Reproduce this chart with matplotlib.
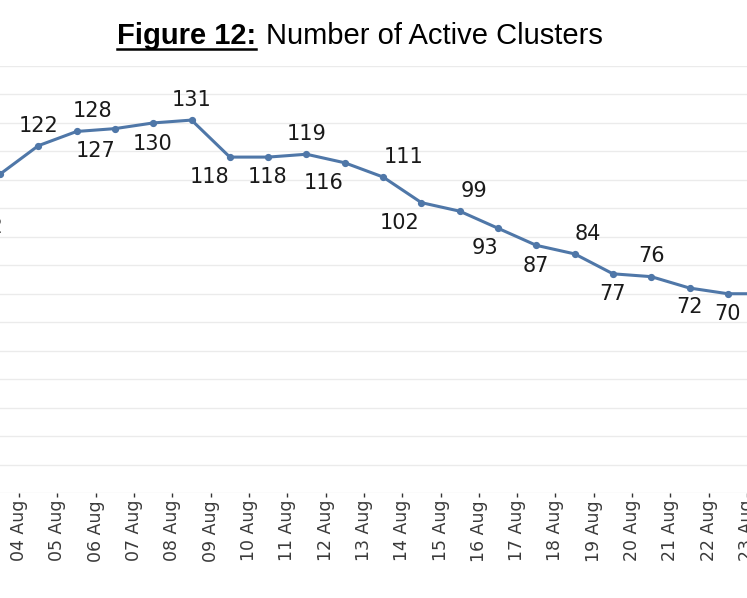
import numpy as np
import matplotlib
matplotlib.use('Agg')
import matplotlib.pyplot as plt
from matplotlib.lines import Line2D

# data (first and last points sit on the crop edges)
days = ['04 Aug', '05 Aug', '06 Aug', '07 Aug', '08 Aug', '09 Aug', '10 Aug',
        '11 Aug', '12 Aug', '13 Aug', '14 Aug', '15 Aug', '16 Aug', '17 Aug',
        '18 Aug', '19 Aug', '20 Aug', '21 Aug', '22 Aug', '23 Aug']
clusters = [112, 122, 127, 128, 130, 131, 118, 118, 119, 116, 111,
            102, 99, 93, 87, 84, 77, 76, 72, 70, 70]

# label offsets in pixels (dx, dy), dy positive = up; None = not drawn
lab_off = [(-16, -53), (0, 20), (19, -20), (-22, 18), (-1, -21), (0, 20),
           (-20, -20), (-1, -20), (0, 20), (-21, -20), (20, 20), (-22, -20),
           (14, 20), (-13, -20), (0, -21), (13, 20), (0, -20), (0, 21),
           (0, -19), (0, -20), None]

W, H = 747, 598
fig = plt.figure(figsize=(W/100, H/100), dpi=100)
ax = fig.add_axes([0, (H-493)/H, 1, 427/H])

x = np.arange(len(clusters))
col = '#4F77A8'
ax.plot(x, clusters, color=col, lw=2.2, marker='o', ms=4.2, zorder=3)
for i, v in enumerate(clusters):
    if lab_off[i] is None:
        continue
    ax.annotate(str(v), (x[i], v), xytext=lab_off[i], textcoords='offset pixels',
                ha='center', va='center', fontsize=15, color='#1a1a1a',
                family='DejaVu Sans', annotation_clip=False)

ax.set_xlim(0, W/38.32)
ax.set_ylim(0, 150)
ax.set_yticks(np.arange(0, 151, 10))
ax.yaxis.grid(True, color='#EBEBEB', lw=1.0)
ax.set_axisbelow(True)
ax.tick_params(axis='y', left=False, labelleft=False)
ax.set_xticks(np.arange(len(days)) + 0.5)
ax.set_xticklabels(days, rotation=90, fontsize=12.5, color='#3a3a3a')
ax.tick_params(axis='x', length=3, width=1, color='#333333', pad=2)
for s in ax.spines.values():
    s.set_visible(False)

# title: bold underlined part + regular part
tx, ty = 117/W, 1 - 44/H
t1 = fig.text(tx, ty, 'Figure 12:', fontsize=21, fontweight='bold',
              family='Liberation Sans', va='baseline', ha='left')
fig.canvas.draw()
bb = t1.get_window_extent()
t2 = fig.text((bb.x1 + 10)/W, ty, 'Number of Active Clusters', fontsize=21,
              family='Liberation Sans', va='baseline', ha='left')
uy = 1 - 48.5/H
fig.add_artist(Line2D([bb.x0/W, bb.x1/W], [uy, uy], color='black', lw=1.8,
                      transform=fig.transFigure))

fig.savefig('out.png', dpi=100)
